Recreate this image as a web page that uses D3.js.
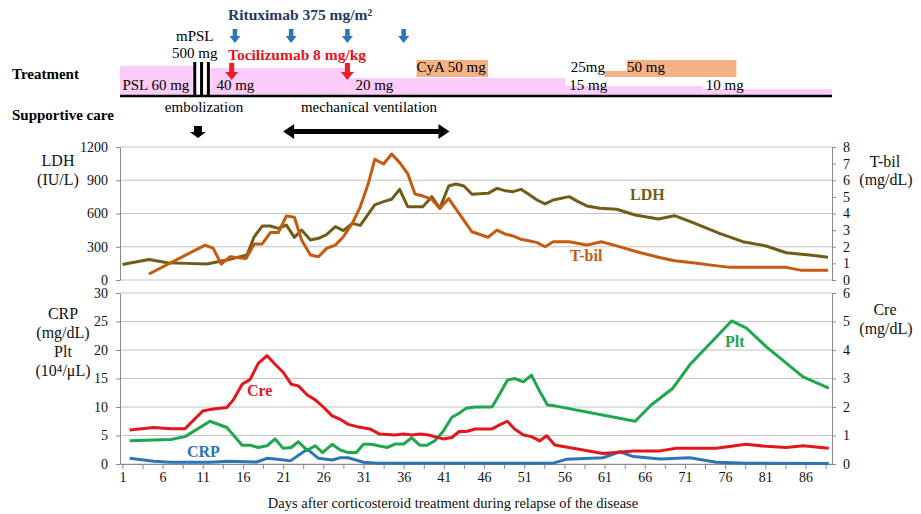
<!DOCTYPE html>
<html>
<head>
<meta charset="utf-8">
<script src="https://cdn.jsdelivr.net/npm/d3@7"></script>
<style>
  body { margin: 0; background: #fff; }
  svg text { font-family: "Liberation Serif", "Times New Roman", serif; }
</style>
</head>
<body>
<script>
(function(){

    // ---- data ----
    var xTickDays = [1, 6, 11, 16, 21, 26, 31, 36, 41, 46, 51, 56, 61, 66, 71, 76, 81, 86];
    var ldhTicks = [0, 300, 600, 900, 1200];
    var tbilTicks = [0, 1, 2, 3, 4, 5, 6, 7, 8];
    var crpTicks = [0, 5, 10, 15, 20, 25, 30];
    var creTicks = [0, 1, 2, 3, 4, 5, 6];

    var ldhDays = [1, 4.3, 6.6, 9, 11.5, 14, 16.5, 17.4, 18.4, 19.4, 20.4, 21.4, 22.4, 23.3, 24.4, 25.4, 26.4, 27.5, 28.5, 29.6,
        30.6, 32.4, 33.5, 34.5, 35.5, 36.5, 38.4, 39.5, 40.5, 41.6, 42.5, 43.5, 44.5, 46.5, 47.6, 48.6, 49.6, 50.6, 51.7, 52.6,
        53.6, 54.6, 56.6, 57.7, 58.8, 60.4, 62.5, 64.8, 67.7, 69.7, 72, 75.3, 78.2, 81.1, 83.6, 86.5, 88.8];
    var ldhValues = [140, 185, 156, 150, 145, 180, 225, 390, 487, 487, 466, 496, 385, 451, 361, 376, 410, 481, 445, 511,
        493, 677, 707, 728, 818, 662, 662, 752, 647, 848, 866, 848, 773, 782, 827, 806, 797, 818, 767, 722,
        686, 722, 752, 707, 668, 647, 638, 587, 551, 580, 517, 421, 346, 307, 246, 225, 205];

    var tbilDays = [4.3, 11.3, 12.3, 13.3, 14.4, 16.4, 17.4, 18.4, 19.4, 20.4, 21.4, 22.4, 23.3, 24.4, 25.4, 26.4, 27.5, 28.5,
        29.6, 30.6, 31.6, 32.4, 33.5, 34.5, 35.5, 36.5, 37.4, 38.4, 39.5, 40.5, 41.6, 44.5, 46.5, 47.6, 48.6, 49.6, 50.6,
        51.7, 52.6, 53.6, 54.6, 56.6, 58.8, 60.6, 62.5, 65, 67.7, 69.7, 72, 74.5, 76.6, 83.6, 85.5, 88.8];
    var tbilValues = [0.36, 2.1, 1.9, 0.96, 1.4, 1.3, 2.17, 2.17, 2.85, 2.85, 3.85, 3.77, 2.4, 1.5, 1.4, 1.9, 2.1, 2.6,
        3.4, 4.4, 5.8, 7.26, 6.98, 7.58, 7.06, 6.4, 5.17, 5.05, 4.85, 4.3, 4.9, 2.9, 2.57, 3.0, 2.77, 2.65, 2.45,
        2.35, 2.25, 2.0, 2.3, 2.3, 2.1, 2.3, 2.05, 1.7, 1.37, 1.16, 1.04, 0.88, 0.76, 0.76, 0.58, 0.58];

    var creDays = [1.9, 4.9, 7, 8.8, 11, 12.3, 14, 14.8, 15.9, 16.9, 17.9, 19, 20, 21, 22, 22.9, 24, 25, 26, 27.1,
        28.1, 29.1, 30.2, 31.8, 33, 34.9, 36, 37, 38, 39.1, 40.9, 42, 42.9, 43.8, 44.9, 47, 48, 48.9, 49.8, 50.9,
        51.9, 52.9, 53.8, 54.8, 60.8, 64.6, 67.9, 69.9, 74.9, 78.6, 81.1, 83.6, 85.7, 88.9];
    var creValues = [1.19, 1.28, 1.24, 1.24, 1.86, 1.93, 1.98, 2.25, 2.8, 2.97, 3.53, 3.8, 3.5, 3.22, 2.8, 2.74, 2.42, 2.25, 2.0, 1.69,
        1.57, 1.39, 1.31, 1.23, 1.05, 1.02, 1.05, 1.02, 1.05, 1.02, 0.88, 0.93, 1.14, 1.14, 1.23, 1.23, 1.38, 1.5, 1.23, 1.02,
        0.96, 0.81, 0.99, 0.67, 0.37, 0.46, 0.46, 0.55, 0.55, 0.69, 0.62, 0.58, 0.64, 0.55];

    var pltDays = [1.9, 7, 8.8, 11.9, 14, 15.9, 16.9, 17.9, 19, 20, 21, 22, 22.9, 24, 25, 25.9, 27.1, 28.1, 29.1, 30.1,
        31, 32, 33, 34, 34.9, 36, 37, 38, 38.9, 39.9, 40.9, 42, 42.9, 43.8, 44.9, 47, 48, 48.9, 49.8, 50.9,
        51.9, 52.9, 53.9, 54.8, 64.8, 66.8, 69.5, 71.6, 76.8, 78.6, 81.1, 85.7, 88.9];
    var pltValues = [4.1, 4.3, 4.8, 7.5, 6.4, 3.3, 3.3, 2.9, 3.2, 4.4, 2.75, 2.9, 3.9, 2.4, 3.2, 2.0, 3.45, 2.45, 2.0, 2.0,
        3.45, 3.45, 3.15, 2.9, 3.5, 3.5, 4.6, 3.3, 3.3, 4.1, 5.7, 8.2, 8.9, 9.8, 10.0, 10.0, 12.4, 14.7, 15.0, 14.4,
        15.6, 12.8, 10.35, 10.2, 7.5, 10.35, 13.3, 17.4, 25.1, 23.9, 20.6, 15.3, 13.3];

    var crpDays = [1.9, 4.9, 7, 11.9, 14.2, 17.7, 19, 20.6, 21.9, 24, 25.4, 27.1, 28.1, 29.1, 31, 32.7,
        54.6, 56.3, 60.8, 62.9, 64.6, 67.9, 71.6, 74.9, 78.6, 88.9];
    var crpValues = [1.0, 0.5, 0.3, 0.3, 0.5, 0.35, 1.0, 0.8, 0.55, 2.6, 1.0, 0.7, 1.1, 1.1, 0.3, 0.15,
        0.15, 0.85, 1.1, 2.15, 1.3, 0.88, 1.1, 0.3, 0.15, 0.1];

    // treatment timeline
    var pslStart = [0.7, 10.0, 28.9, 56.1, 73.2];
    var pslEnd = [10.0, 28.9, 56.1, 73.2, 89.3];
    var pslDoses = [60, 40, 20, 15, 10];
    var pslLabels = ["PSL 60 mg", "40 mg", "20 mg", "15 mg", "10 mg"];
    var pslLabelDays = [1, 12.7, 30, 56.6, 73.6];

    var mpslDays = [10, 10.85, 11.7];
    var rituximabDays = [15, 22, 29, 36];
    var tocilizumabDays = [14.6, 29];

    var cyaStart = [37.6, 61.0, 63.75];
    var cyaEnd = [46.5, 63.75, 77.4];
    var cyaDoses = [50, 25, 50];
    var cyaLabels = ["CyA 50 mg", "25mg", "50 mg"];
    var cyaLabelDays = [37.6, 56.8, 63.8];

    var embolizationDay = 10.4;
    var ventilationDays = [21, 41.7];

    // ---- layout ----
    var width = 921, height = 514;
    var plotLeft = 120, plotRight = 832;
    var topY0 = 147, topY1 = 280, botY0 = 293, botY1 = 464;

    var colors = {
        ldh: "#6f5d17", tbil: "#c55a11", cre: "#e3161e", plt: "#1fa64e", crp: "#2e75b6",
        grid: "#c3c3c3", axis: "#8a8a8a", pink: "#fbcbf9", cya: "#f4b183"
    };

    var svg = d3.select("body").append("svg")
        .attr("width", width)
        .attr("height", height);

    var x = d3.scaleLinear().domain([0.7, 89.3]).range([plotLeft, plotRight]);

    var yLdh = d3.scaleLinear().domain([0, 1200]).range([topY1, topY0]);
    var yTbil = d3.scaleLinear().domain([0, 8]).range([topY1, topY0]);
    var yCrp = d3.scaleLinear().domain([0, 30]).range([botY1, botY0]);
    var yCre = d3.scaleLinear().domain([0, 6]).range([botY1, botY0]);

    function zip(days, vals){
        return days.map(function(d, i){ return [d, vals[i]]; });
    }

    // ---- treatment panel ----
    var pslHeight = d3.scaleLinear().domain([10, 15, 20, 40, 60]).range([6, 9, 17, 27, 29]);
    var cyaHeight = d3.scaleLinear().domain([25, 50]).range([6, 17]);
    var timelineBase = 95;

    svg.selectAll(".psl")
        .data(pslDoses)
        .enter()
        .append("rect")
        .attr("class", "psl")
        .attr("x", function(d, i){ return x(pslStart[i]); })
        .attr("width", function(d, i){ return x(pslEnd[i]) - x(pslStart[i]); })
        .attr("y", function(d){ return timelineBase - pslHeight(d); })
        .attr("height", function(d){ return pslHeight(d); })
        .style("fill", colors.pink);

    svg.selectAll(".cya")
        .data(cyaDoses)
        .enter()
        .append("rect")
        .attr("class", "cya")
        .attr("x", function(d, i){ return x(cyaStart[i]); })
        .attr("width", function(d, i){ return x(cyaEnd[i]) - x(cyaStart[i]); })
        .attr("y", function(d){ return 77 - cyaHeight(d); })
        .attr("height", function(d){ return cyaHeight(d); })
        .style("fill", colors.cya);

    // mPSL pulse: white gap with three black bars
    svg.append("rect")
        .attr("x", x(mpslDays[0]) - 2)
        .attr("width", x(mpslDays[2]) - x(mpslDays[0]) + 4)
        .attr("y", 62)
        .attr("height", 35)
        .style("fill", "#fff");

    svg.selectAll(".mpsl")
        .data(mpslDays)
        .enter()
        .append("line")
        .attr("class", "mpsl")
        .attr("x1", function(d){ return x(d); })
        .attr("x2", function(d){ return x(d); })
        .attr("y1", 62)
        .attr("y2", 97)
        .style("stroke", "#000")
        .style("stroke-width", 3);

    svg.append("line")
        .attr("x1", plotLeft)
        .attr("x2", plotRight)
        .attr("y1", 96)
        .attr("y2", 96)
        .style("stroke", "#000")
        .style("stroke-width", 2.5);

    svg.selectAll(".pslLabel")
        .data(pslLabels)
        .enter()
        .append("text")
        .attr("class", "pslLabel")
        .attr("x", function(d, i){ return x(pslLabelDays[i]); })
        .attr("y", 90)
        .style("font-size", "15px")
        .text(function(d){ return d; });

    svg.selectAll(".cyaLabel")
        .data(cyaLabels)
        .enter()
        .append("text")
        .attr("class", "cyaLabel")
        .attr("x", function(d, i){ return x(cyaLabelDays[i]); })
        .attr("y", 72)
        .style("font-size", "15px")
        .text(function(d){ return d; });

    function downArrow(cx, y0, y1, sw, hw, hh){
        return "M" + (cx - sw / 2) + "," + y0 + "H" + (cx + sw / 2) + "V" + (y1 - hh) +
            "H" + (cx + hw / 2) + "L" + cx + "," + y1 + "L" + (cx - hw / 2) + "," + (y1 - hh) +
            "H" + (cx - sw / 2) + "Z";
    }

    function doubleArrow(x0, x1, cy, th, hl, hh){
        return "M" + x0 + "," + cy + "L" + (x0 + hl) + "," + (cy - hh / 2) + "V" + (cy - th / 2) +
            "H" + (x1 - hl) + "V" + (cy - hh / 2) + "L" + x1 + "," + cy + "L" + (x1 - hl) + "," + (cy + hh / 2) +
            "V" + (cy + th / 2) + "H" + (x0 + hl) + "V" + (cy + hh / 2) + "Z";
    }

    svg.selectAll(".ritux")
        .data(rituximabDays)
        .enter()
        .append("path")
        .attr("class", "ritux")
        .attr("d", function(d){ return downArrow(x(d), 29, 43, 4.5, 11, 7); })
        .style("fill", colors.crp);

    svg.selectAll(".toci")
        .data(tocilizumabDays)
        .enter()
        .append("path")
        .attr("class", "toci")
        .attr("d", function(d){ return downArrow(x(d), 63, 80, 5, 13, 8); })
        .style("fill", "#ee1c25");

    svg.append("text")
        .attr("x", 228)
        .attr("y", 20)
        .style("font-size", "15.5px")
        .style("font-weight", "bold")
        .style("fill", "#1f3864")
        .text("Rituximab 375 mg/m\u00b2");

    svg.append("text")
        .attr("x", 228)
        .attr("y", 60)
        .style("font-size", "15.5px")
        .style("font-weight", "bold")
        .style("fill", "#e3141b")
        .text("Tocilizumab 8 mg/kg");

    svg.append("text").attr("x", x(mpslDays[0])).attr("y", 41)
        .attr("text-anchor", "middle").style("font-size", "15px").text("mPSL");
    svg.append("text").attr("x", x(mpslDays[0])).attr("y", 58)
        .attr("text-anchor", "middle").style("font-size", "15px").text("500 mg");

    svg.append("text").attr("x", 12).attr("y", 79)
        .style("font-size", "15px").style("font-weight", "bold").text("Treatment");
    svg.append("text").attr("x", 12).attr("y", 120)
        .style("font-size", "15px").style("font-weight", "bold").text("Supportive care");

    // supportive care
    svg.append("text").attr("x", 204).attr("y", 112)
        .attr("text-anchor", "middle").style("font-size", "15px").text("embolization");
    svg.append("text").attr("x", 369).attr("y", 112)
        .attr("text-anchor", "middle").style("font-size", "15px").text("mechanical ventilation");

    svg.append("path")
        .attr("d", downArrow(x(embolizationDay), 126, 138, 8, 16, 6))
        .style("fill", "#000");

    svg.append("path")
        .attr("d", doubleArrow(x(ventilationDays[0]), x(ventilationDays[1]), 131.5, 5, 11, 15))
        .style("fill", "#000");

    // ---- gridlines ----
    function grid(ticks, scale){
        svg.append("g")
            .selectAll("line")
            .data(ticks)
            .enter()
            .append("line")
            .attr("x1", plotLeft)
            .attr("x2", plotRight)
            .attr("y1", function(d){ return scale(d); })
            .attr("y2", function(d){ return scale(d); })
            .style("stroke", colors.grid)
            .style("stroke-width", 1);
    }
    grid(ldhTicks, yLdh);
    grid(crpTicks, yCrp);

    // ---- axes ----
    function styleAxis(g){
        g.selectAll("path.domain").style("stroke", colors.axis);
        g.selectAll(".tick line").style("stroke", colors.axis);
        g.selectAll("text")
            .style("font-family", "Liberation Serif, serif")
            .style("font-size", "14px")
            .style("fill", "#111");
    }

    var intFmt = d3.format("d");

    svg.append("g")
        .attr("transform", "translate(" + plotLeft + ",0)")
        .call(d3.axisLeft(yLdh).tickValues(ldhTicks).tickFormat(intFmt)
            .tickSize(4).tickSizeOuter(0).tickPadding(8))
        .call(styleAxis);

    svg.append("g")
        .attr("transform", "translate(" + plotRight + ",0)")
        .call(d3.axisRight(yTbil).tickValues(tbilTicks).tickFormat(intFmt)
            .tickSize(4).tickSizeOuter(0).tickPadding(7))
        .call(styleAxis);

    svg.append("g")
        .attr("transform", "translate(" + plotLeft + ",0)")
        .call(d3.axisLeft(yCrp).tickValues(crpTicks).tickFormat(intFmt)
            .tickSize(4).tickSizeOuter(0).tickPadding(8))
        .call(styleAxis);

    svg.append("g")
        .attr("transform", "translate(" + plotRight + ",0)")
        .call(d3.axisRight(yCre).tickValues(creTicks).tickFormat(intFmt)
            .tickSize(4).tickSizeOuter(0).tickPadding(7))
        .call(styleAxis);

    var minorTicks = d3.range(1, 89, 2.5);
    svg.append("g")
        .attr("transform", "translate(0," + botY1 + ")")
        .call(d3.axisBottom(x)
            .tickValues(minorTicks)
            .tickSize(5)
            .tickSizeOuter(0)
            .tickPadding(3)
            .tickFormat(function(d){ return xTickDays.indexOf(d) >= 0 ? d : ""; }))
        .call(styleAxis);

    // ---- lines ----
    function drawLine(days, vals, yScale, color){
        var line = d3.line()
            .x(function(d){ return x(d[0]); })
            .y(function(d){ return yScale(d[1]); });
        svg.append("path")
            .datum(zip(days, vals))
            .attr("d", line)
            .style("fill", "none")
            .style("stroke", color)
            .style("stroke-width", 3)
            .style("stroke-linejoin", "round");
    }

    drawLine(ldhDays, ldhValues, yLdh, colors.ldh);
    drawLine(tbilDays, tbilValues, yTbil, colors.tbil);
    drawLine(crpDays, crpValues, yCrp, colors.crp);
    drawLine(pltDays, pltValues, yCrp, colors.plt);
    drawLine(creDays, creValues, yCre, colors.cre);

    // ---- labels ----
    function label(txt, lx, ly, color, bold, size, anchor){
        svg.append("text")
            .attr("x", lx)
            .attr("y", ly)
            .attr("text-anchor", anchor || "start")
            .style("font-size", (size || 16) + "px")
            .style("font-weight", bold ? "bold" : "normal")
            .style("fill", color)
            .text(txt);
    }

    label("LDH", 630, 200, colors.ldh, true);
    label("T-bil", 570, 261, colors.tbil, true);
    label("Cre", 247, 396, colors.cre, true);
    label("CRP", 187, 457, colors.crp, true);
    label("Plt", 725, 347, colors.plt, true);

    label("LDH", 58, 166, "#111", false, 16, "middle");
    label("(IU/L)", 58, 185, "#111", false, 16, "middle");
    label("T-bil", 885, 167, "#111", false, 16, "middle");
    label("(mg/dL)", 886, 185, "#111", false, 16, "middle");

    label("CRP", 63, 319, "#111", false, 16, "middle");
    label("(mg/dL)", 63, 338, "#111", false, 16, "middle");
    label("Plt", 63, 357, "#111", false, 16, "middle");
    label("(10\u2074/\u03bcL)", 63, 376, "#111", false, 16, "middle");
    label("Cre", 885, 315, "#111", false, 16, "middle");
    label("(mg/dL)", 886, 334, "#111", false, 16, "middle");

    label("Days after corticosteroid treatment during relapse of the disease", 453, 508, "#111", false, 14.5, "middle");

})();
</script>
</body>
</html>
